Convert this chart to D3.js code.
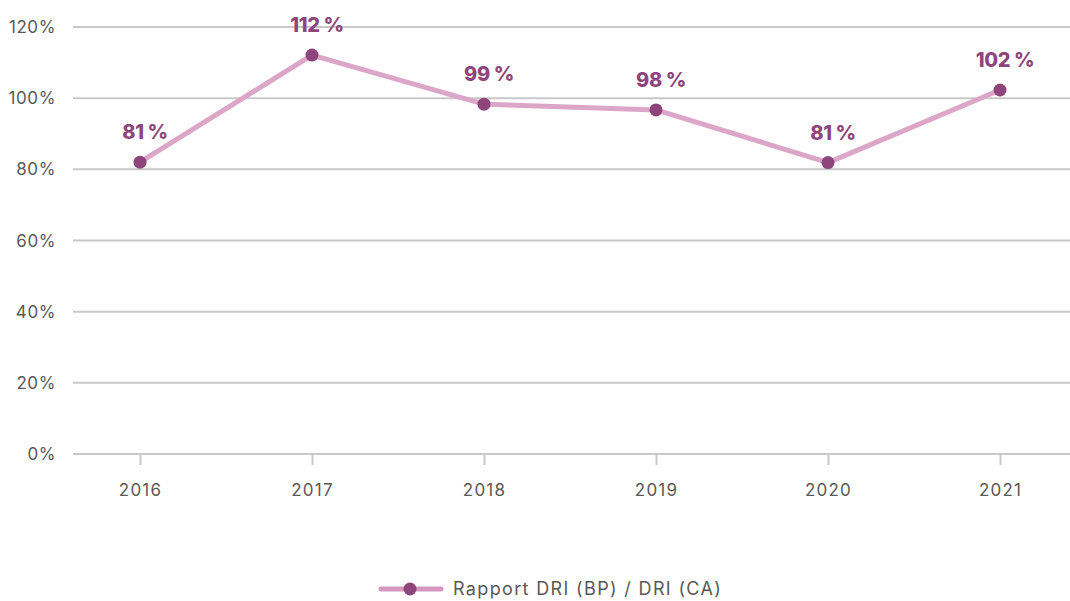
<!DOCTYPE html>
<html><head><meta charset="utf-8">
<script src="https://cdn.jsdelivr.net/npm/d3@7"></script>
<style>
html,body{margin:0;padding:0;background:#fff;}
svg{display:block;font-family:Inter, "Open Sans", sans-serif;}
</style></head>
<body><svg id="c" width="1070" height="601"></svg>
<script>
const years = ["2016","2017","2018","2019","2020","2021"];
const ratios = [0.82, 1.121, 0.983, 0.967, 0.819, 1.023];
const ratioLabels = ["81 %","112 %","99 %","98 %","81 %","102 %"];
const yTicks = [0, 0.2, 0.4, 0.6, 0.8, 1.0, 1.2];
const seriesName = "Rapport DRI (BP) / DRI (CA)";

const svg = d3.select("#c");
const x = d3.scalePoint().domain(years).range([140, 1000]);
const y = d3.scaleLinear().domain([0, 1.2]).range([454, 27]);
const gridL = 73, gridR = 1070;
const lineColor = "#dca6c8", dotColor = "#8e457b", textColor = "#595959";

// grid
svg.append("g").selectAll("line").data(yTicks).join("line")
  .attr("x1", gridL).attr("x2", gridR)
  .attr("y1", d => y(d)).attr("y2", d => y(d))
  .attr("stroke", "#c9c9c9").attr("stroke-width", 2);

// y labels
svg.append("g").selectAll("text").data(yTicks).join("text")
  .attr("x", 56).attr("y", d => y(d)).attr("dy", "0.36em")
  .attr("text-anchor", "end").attr("font-size", 17).attr("fill", textColor)
  .attr("letter-spacing", "0.6px")
  .text(d => d3.format(".0%")(d));

// x axis ticks + labels
const xAxis = d3.axisBottom(x).tickSize(11).tickPadding(19).tickSizeOuter(0);
const gx = svg.append("g").attr("transform", `translate(0,${y(0)})`).call(xAxis);
gx.select(".domain").remove();
gx.selectAll(".tick line").attr("stroke", "#c9c9c9").attr("stroke-width", 2);
gx.selectAll(".tick text").attr("font-size", 17).attr("fill", textColor)
  .attr("letter-spacing", "1.2px")
  .attr("font-family", "Inter, sans-serif");

// line
const data = years.map((yr, i) => ({yr, v: ratios[i], lbl: ratioLabels[i]}));
svg.append("path").datum(data)
  .attr("d", d3.line().x(d => x(d.yr)).y(d => y(d.v)))
  .attr("fill", "none").attr("stroke", lineColor).attr("stroke-width", 5)
  .attr("stroke-linejoin", "round");

svg.append("g").selectAll("circle").data(data).join("circle")
  .attr("cx", d => x(d.yr)).attr("cy", d => y(d.v)).attr("r", 6.5)
  .attr("fill", dotColor);

svg.append("g").selectAll("text").data(data).join("text")
  .attr("x", d => x(d.yr) + 5).attr("y", d => y(d.v) - 23)
  .attr("text-anchor", "middle").attr("font-size", 20).attr("font-weight", 800)
  .attr("letter-spacing", "-0.4px")
  .attr("fill", dotColor).text(d => d.lbl);

// legend
const lg = svg.append("g").attr("transform", "translate(0,589)");
lg.append("line").attr("x1", 381).attr("x2", 441).attr("y1", 0).attr("y2", 0)
  .attr("stroke", "#d596c0").attr("stroke-width", 5).attr("stroke-linecap", "round");
lg.append("circle").attr("cx", 410).attr("cy", 0).attr("r", 6.5).attr("fill", dotColor);
lg.append("text").attr("x", 453).attr("y", 0).attr("dy", "0.36em")
  .attr("font-size", 18).attr("fill", textColor).attr("letter-spacing", "1.35px")
  .text(seriesName);
</script>
</body></html>
